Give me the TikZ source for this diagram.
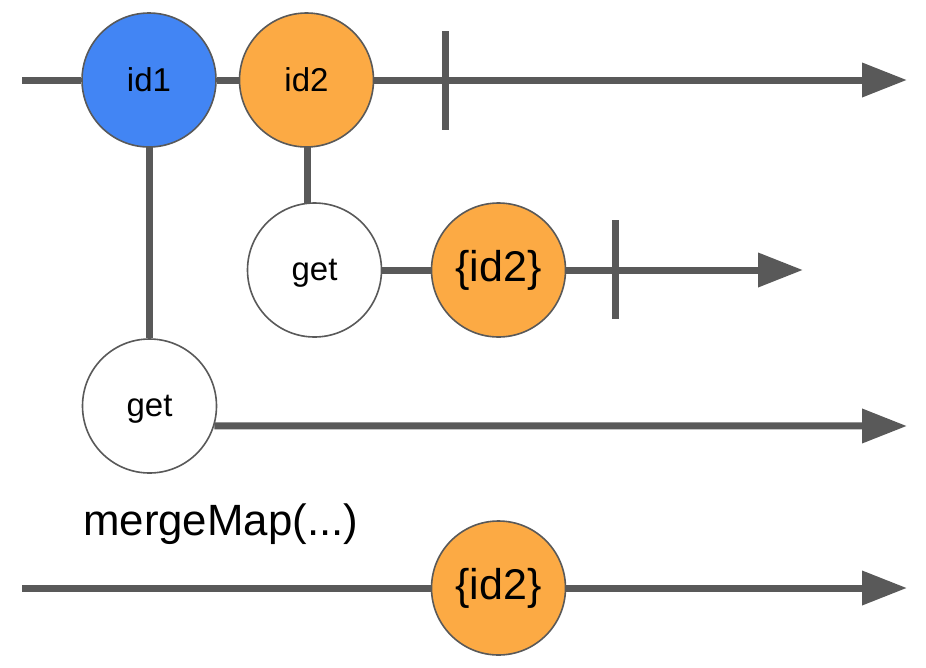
\documentclass[tikz,border=0pt]{standalone}
\usepackage{fontspec}
\setmainfont{Liberation Sans}
\usetikzlibrary{arrows.meta}
\definecolor{linegray}{HTML}{595959}
\definecolor{rxblue}{HTML}{4285F4}
\definecolor{rxorange}{HTML}{FCAA44}
\begin{document}
\begin{tikzpicture}[x=1pt,y=-1pt,
  marble/.style={circle,draw=linegray,line width=1.6pt,minimum size=134pt,inner sep=0pt,font=\fontsize{33}{36}\selectfont},
  opmarble/.style={marble,text depth=0pt,text height=20pt},
  bigmarble/.style={marble,font=\fontsize{43}{46}\selectfont},
  timeline/.style={draw=linegray,line width=7pt},
  arrowline/.style={timeline,-{Triangle[length=45pt,width=33pt]}},
  endtick/.style={draw=linegray,line width=7pt}]
\useasboundingbox (0,0) rectangle (926,667);
% top stream
\node[marble,fill=rxblue] (id1) at (149,80) {id1};
\node[marble,fill=rxorange] (id2) at (306.5,80) {id2};
\coordinate (s1) at (22,80);
\coordinate (e1) at (907,80);
\coordinate (t1a) at (445,31);
\coordinate (t1b) at (445,130);
\draw[timeline] (s1) -- (id1);
\draw[timeline] (id1) -- (id2);
\draw[arrowline] (id2) -- (e1);
\draw[endtick] (t1a) -- (t1b);
% inner stream from id2
\node[opmarble,fill=white] (get2) at (314.5,270) {get};
\node[bigmarble,fill=rxorange] (v2) at (498.5,270) {\{id2\}};
\coordinate (e2) at (803,270);
\coordinate (t2a) at (615.5,220);
\coordinate (t2b) at (615.5,319);
\coordinate (d2top) at (307,147);
\coordinate (d2bot) at (307,203);
\draw[timeline] (d2top) -- (d2bot);
\draw[timeline] (get2) -- (v2);
\draw[arrowline] (v2) -- (e2);
\draw[endtick] (t2a) -- (t2b);
% inner stream from id1
\node[opmarble,fill=white] (get1) at (149.5,406) {get};
\coordinate (d1top) at (149.5,147);
\draw[timeline] (d1top) -- (get1);
\coordinate (e3) at (907,426);
\draw[arrowline] (get1.-17.1) -- (e3);
% operator
\node[anchor=base west,inner sep=0pt,font=\fontsize{43.8}{46}\selectfont] (op) at (83,535) {mergeMap(...)};
% output stream
\node[bigmarble,fill=rxorange] (v3) at (498.5,588) {\{id2\}};
\coordinate (s4) at (22,588);
\coordinate (e4) at (907,588);
\draw[timeline] (s4) -- (v3);
\draw[arrowline] (v3) -- (e4);
\end{tikzpicture}
\end{document}
